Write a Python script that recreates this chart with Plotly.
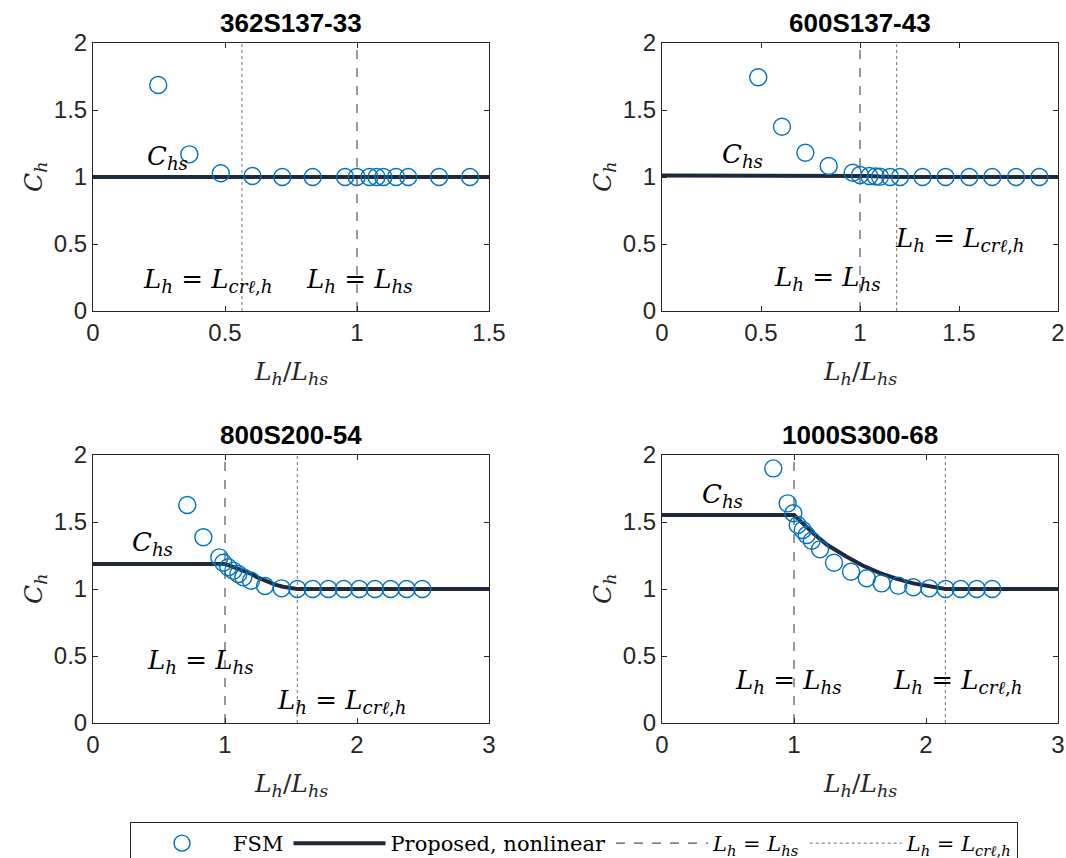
import plotly.graph_objects as go

W, H = 1066, 858

titles = ["362S137-33", "600S137-43", "800S200-54", "1000S300-68"]

# FSM points
fsm_x = [
    [0.247, 0.365, 0.484, 0.604, 0.717, 0.832, 0.955, 0.999, 1.047, 1.074, 1.10, 1.148, 1.194, 1.311, 1.428],
    [0.486, 0.606, 0.724, 0.842, 0.963, 1.0, 1.047, 1.079, 1.101, 1.152, 1.202, 1.316, 1.432, 1.552, 1.668, 1.788, 1.906],
    [0.714, 0.836, 0.957, 0.987, 1.025, 1.063, 1.101, 1.139, 1.197, 1.303, 1.429, 1.548, 1.664, 1.783, 1.90, 2.018, 2.136, 2.255, 2.376, 2.495],
    [0.843, 0.952, 0.995, 1.028, 1.066, 1.096, 1.134, 1.197, 1.303, 1.432, 1.551, 1.664, 1.79, 1.904, 2.025, 2.149, 2.263, 2.384, 2.502],
]
fsm_y = [
    [1.687, 1.169, 1.028, 1.007, 1.0, 1.0, 1.0, 1.0, 1.0, 1.0, 1.0, 1.0, 1.0, 1.0, 1.0],
    [1.744, 1.375, 1.181, 1.082, 1.032, 1.015, 1.007, 1.004, 1.002, 1.0, 1.0, 1.0, 1.0, 1.0, 1.0, 1.0, 1.0],
    [1.627, 1.386, 1.236, 1.196, 1.162, 1.137, 1.112, 1.087, 1.062, 1.022, 1.005, 1.0, 1.0, 1.0, 1.0, 1.0, 1.0, 1.0, 1.0, 1.0],
    [1.90, 1.639, 1.565, 1.478, 1.440, 1.403, 1.360, 1.296, 1.196, 1.129, 1.080, 1.042, 1.025, 1.013, 1.005, 1.0, 1.0, 1.0, 1.0],
]

# Proposed, nonlinear curve
prop_x = [
    [0.0, 1.5],
    [0.0, 1.0, 1.05, 1.10, 1.185, 2.0],
    [0.0, 1.0, 1.1, 1.19, 1.25, 1.316, 1.38, 1.44, 1.5, 1.548, 3.0],
    [0.0, 1.0, 1.146, 1.25, 1.399, 1.52, 1.652, 1.78, 1.904, 2.03, 2.147, 3.0],
]
prop_y = [
    [1.0, 1.0],
    [1.012, 1.012, 1.007, 1.003, 1.0, 1.0],
    [1.187, 1.187, 1.15, 1.117, 1.085, 1.054, 1.032, 1.017, 1.006, 1.0, 1.0],
    [1.552, 1.552, 1.416, 1.33, 1.241, 1.175, 1.118, 1.075, 1.042, 1.017, 1.0, 1.0],
]

lhs_ratio = [1.0, 1.0, 1.0, 1.0]
lcrl_ratio = [0.564, 1.185, 1.548, 2.147]

x_max = [1.5, 2.0, 3.0, 3.0]
x_ticks = [[0, 0.5, 1, 1.5], [0, 0.5, 1, 1.5, 2], [0, 1, 2, 3], [0, 1, 2, 3]]
y_ticks = [0, 0.5, 1, 1.5, 2]

# label positions (data coords)
chs_pos = [(0.284, 1.149), (0.407, 1.164), (0.451, 1.341), (0.458, 1.701)]
lhs_pos = [(1.008, 0.231), (0.836, 0.244), (0.817, 0.458), (0.957, 0.308)]
lcrl_pos = [(0.434, 0.231), (1.505, 0.53), (1.884, 0.159), (2.245, 0.308)]

# pixel layout of the four axes boxes: (left, right, top, bottom)
boxes = [(93, 489, 43, 311), (662, 1058, 43, 311), (93, 489, 455, 723), (662, 1058, 455, 723)]

BLUE = "#0072BD"
NAVY = "#1e293b"
AX = "#262626"
SERIF = "DejaVu Serif, Liberation Serif, serif"
SANS = "Liberation Sans, Arial, sans-serif"

LHS_TXT = "<i>L</i><sub><i>h</i></sub> = <i>L</i><sub><i>hs</i></sub>"
LCRL_TXT = "<i>L</i><sub><i>h</i></sub> = <i>L</i><sub><i>cr\u2113</i>,<i>h</i></sub>"
CHS_TXT = "<i>C</i><sub><i>hs</i></sub>"

fig = go.Figure()
layout = {}
annotations = []

for i in range(4):
    xa = "x" if i == 0 else f"x{i+1}"
    ya = "y" if i == 0 else f"y{i+1}"
    l, r, t, b = boxes[i]
    first = i == 0

    fig.add_trace(go.Scatter(
        x=[lhs_ratio[i], lhs_ratio[i]], y=[0, 2], mode="lines", xaxis=xa, yaxis=ya,
        line=dict(color="#555555", width=1.2, dash="dash"),
        name=LHS_TXT, showlegend=False, legendrank=3))
    fig.add_trace(go.Scatter(
        x=[lcrl_ratio[i], lcrl_ratio[i]], y=[0, 2], mode="lines", xaxis=xa, yaxis=ya,
        line=dict(color="#8a8a8a", width=1.2, dash="dot"),
        name=LCRL_TXT, showlegend=False, legendrank=4))
    fig.add_trace(go.Scatter(
        x=prop_x[i], y=prop_y[i], mode="lines", xaxis=xa, yaxis=ya,
        line=dict(color=NAVY, width=4), name="Proposed, nonlinear",
        showlegend=first, legendrank=2))
    fig.add_trace(go.Scatter(
        x=fsm_x[i], y=fsm_y[i], mode="markers", xaxis=xa, yaxis=ya,
        marker=dict(symbol="circle-open", size=17, color=BLUE, line=dict(width=1.4, color=BLUE)),
        name="FSM", showlegend=first, legendrank=1))
    if first:
        fig.add_trace(go.Scatter(x=[None], y=[None], mode="lines", xaxis=xa, yaxis=ya,
                                 line=dict(color="#555555", width=1.2, dash="dash"),
                                 name=LHS_TXT, legendrank=3))
        fig.add_trace(go.Scatter(x=[None], y=[None], mode="lines", xaxis=xa, yaxis=ya,
                                 line=dict(color="#8a8a8a", width=1.2, dash="dot"),
                                 name=LCRL_TXT, legendrank=4))

    axcommon = dict(showgrid=False, zeroline=False, showline=True, linecolor=AX, linewidth=1,
                    mirror="ticks", ticks="inside", ticklen=5, tickcolor=AX, tickwidth=1,
                    automargin=False,
                    tickfont=dict(family=SANS, size=24, color=AX))
    layout["xaxis" if i == 0 else f"xaxis{i+1}"] = dict(
        domain=[l / W, r / W], range=[0, x_max[i]], tickvals=x_ticks[i],
        ticktext=[f"{v:g}" for v in x_ticks[i]], anchor=ya, **axcommon)
    layout["yaxis" if i == 0 else f"yaxis{i+1}"] = dict(
        domain=[1 - b / H, 1 - t / H], range=[0, 2], tickvals=y_ticks,
        ticktext=[f"{v:g}" for v in y_ticks], anchor=xa, **axcommon)

    # title
    annotations.append(dict(text=f"<b>{titles[i]}</b>", xref="paper", yref="paper",
                            x=(l + r) / 2 / W, y=1 - (t - 20) / H, showarrow=False,
                            font=dict(family=SANS, size=26, color="black"),
                            xanchor="center", yanchor="middle"))
    # axis titles
    annotations.append(dict(text="<i>L</i><sub><i>h</i></sub>/<i>L</i><sub><i>hs</i></sub>",
                            xref="paper", yref="paper", x=(l + r) / 2 / W, y=1 - (b + 62) / H,
                            showarrow=False, font=dict(family=SERIF, size=25, color=AX),
                            xanchor="center", yanchor="middle"))
    annotations.append(dict(text="<i>C</i><sub><i>h</i></sub>", xref="paper", yref="paper",
                            x=(l - 58) / W, y=1 - (t + b) / 2 / H, textangle=-90,
                            showarrow=False, font=dict(family=SERIF, size=25, color=AX),
                            xanchor="center", yanchor="middle"))
    # in-plot labels
    for txt, pos in ((CHS_TXT, chs_pos[i]), (LHS_TXT, lhs_pos[i]), (LCRL_TXT, lcrl_pos[i])):
        annotations.append(dict(text=txt, xref=xa, yref=ya, x=pos[0], y=pos[1],
                                showarrow=False, font=dict(family=SERIF, size=26, color="black"),
                                xanchor="center", yanchor="middle"))

fig.update_layout(
    width=W, height=H, margin=dict(l=0, r=0, t=0, b=0, autoexpand=False),
    paper_bgcolor="white", plot_bgcolor="white",
    annotations=annotations,
    legend=dict(orientation="h", x=574 / W, xanchor="center", y=1 - 822 / H, yanchor="top",
                bgcolor="white", bordercolor=AX, borderwidth=1,
                font=dict(family=SERIF, size=21, color="black"), itemwidth=92,
                traceorder="normal"),
    **layout,
)

fig.write_html("out.html", config={"displayModeBar": False},
               post_script="document.body.style.margin='0px';document.body.style.overflow='hidden';")
